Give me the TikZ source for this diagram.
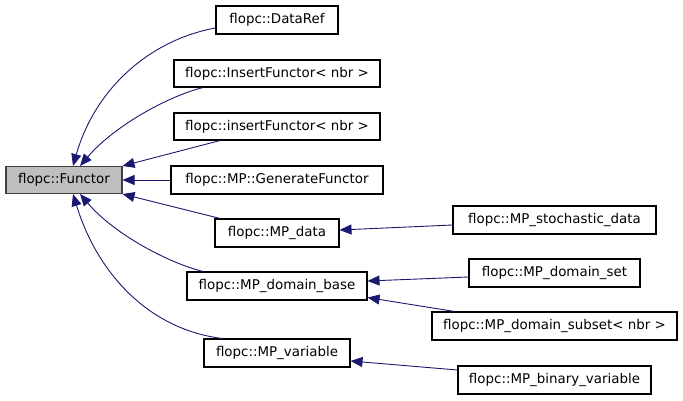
\documentclass[tikz,border=0pt]{standalone}
\usepackage{fontspec}
\setmainfont{DejaVu Sans}
\usetikzlibrary{arrows.meta,calc}
\definecolor{edgecol}{HTML}{191970}
\definecolor{greyfill}{HTML}{BFBFBF}
\tikzset{
  cls/.style={draw=black,line width=1.1pt,fill=white,inner sep=0pt,font=\fontsize{13.4}{16}\selectfont},
  edge/.style={draw=edgecol,line width=0.9pt,-{Triangle[length=12pt,width=10pt]},color=edgecol}
}
\begin{document}
\begin{tikzpicture}[x=1pt,y=-1pt]
\useasboundingbox (0,0) rectangle (683,400);
\node[cls,draw=black!75,fill=greyfill,minimum width=116pt,minimum height=27pt] (F) at (64,180) {flopc::Functor};
\node[cls,minimum width=122pt,minimum height=28pt] (DR) at (277,20) {flopc::DataRef};
\node[cls,minimum width=206pt,minimum height=27pt] (IF) at (277,73.5) {flopc::InsertFunctor< nbr >};
\node[cls,minimum width=206pt,minimum height=27pt] (if) at (277,126.5) {flopc::insertFunctor< nbr >};
\node[cls,minimum width=212pt,minimum height=28pt] (GF) at (277,180) {flopc::MP::GenerateFunctor};
\node[cls,minimum width=124pt,minimum height=28pt] (MD) at (277,233) {flopc::MP\_data};
\node[cls,minimum width=180pt,minimum height=28pt] (DB) at (277,286) {flopc::MP\_domain\_base};
\node[cls,minimum width=146pt,minimum height=28pt] (MV) at (277,353) {flopc::MP\_variable};
\node[cls,minimum width=203pt,minimum height=28pt] (SD) at (554.5,220) {flopc::MP\_stochastic\_data};
\node[cls,minimum width=171pt,minimum height=28pt] (DS) at (554.5,273) {flopc::MP\_domain\_set};
\node[cls,minimum width=245pt,minimum height=28pt] (DU) at (554.5,326) {flopc::MP\_domain\_subset< nbr >};
\node[cls,minimum width=193pt,minimum height=28pt] (BV) at (554.5,380) {flopc::MP\_binary\_variable};

\draw[edge] ($(DR.west)+(0,8)$) .. controls +(-66,12) and +(22,-77) .. ($(F.north)+(9,0)$);
\draw[edge] ($(IF.south)+(-74,0)$) .. controls +(-33,8) and +(35,-41) .. ($(F.north)+(16,0)$);
\draw[edge] ($(if.south)+(-57,0)$) -- ($(F.north east)+(0,0)$);
\draw[edge] (GF.west) -- (F.east);
\draw[edge] ($(MD.north)+(-57,0)$) -- (F.south east);
\draw[edge] ($(DB.north)+(-74,0)$) .. controls +(-33,-8) and +(35,41) .. ($(F.south)+(16,0)$);
\draw[edge] ($(MV.north)+(-55,0)$) .. controls +(-72,-9) and +(25,81) .. ($(F.south)+(9,0)$);
\draw[edge] ($(SD.west)+(0,5)$) -- ($(MD.east)+(0,-3)$);
\draw[edge] ($(DS.west)+(0,4)$) -- ($(DB.east)+(0,-5)$);
\draw[edge] ($(DU.north west)+(23,0)$) -- ($(DB.south east)+(0,-3)$);
\draw[edge] ($(BV.west)+(0,-10)$) -- ($(MV.east)+(0,8)$);
\end{tikzpicture}
\end{document}
